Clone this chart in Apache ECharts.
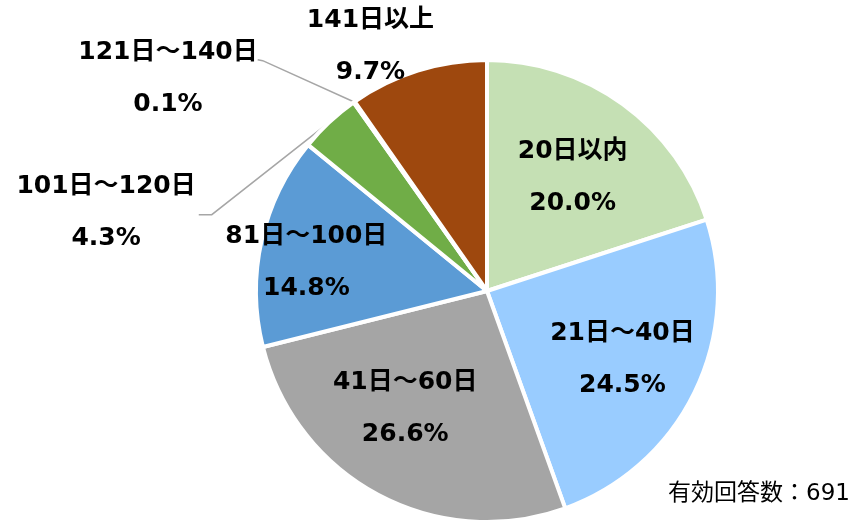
<!DOCTYPE html>
<html><head><meta charset="utf-8">
<script src="https://cdn.jsdelivr.net/npm/echarts@6/dist/echarts.min.js"></script>
<style>html,body{margin:0;padding:0;background:#fff}#c{width:852px;height:524px}</style>
</head><body><div id="c"></div>
<script>
const categories = ['20日以内','21日～40日','41日～60日','81日～100日','101日～120日','121日～140日','141日以上'];
const values = [20.0, 24.5, 26.6, 14.8, 4.3, 0.1, 9.7];
const colors = ['#C5E0B4','#99CCFF','#A5A5A5','#5B9BD5','#70AD47','#ED7D31','#9E480E'];
const footnote = '有効回答数：691';

// label placement: position type and offset from the library's default label centre
const labelPos = ['inside','inside','inside','inside','outside','outside','inside'];
const labelOffsets = [[16,-18],[29,16],[-26,13],[-65,-3],[-50,21],[-70,-7],[-81,-131]];

const chart = echarts.init(document.getElementById('c'));
const font = '"DejaVu Sans","Noto Sans CJK JP",sans-serif';
chart.setOption({
  animation:false,
  series:[{
    type:'pie',
    center:[487,291],
    radius:231,
    startAngle:90,
    clockwise:true,
    data:categories.map((n,i)=>({
      name:n, value:values[i],
      itemStyle:{color:colors[i]},
      label:{position:labelPos[i]},
      labelLine:{show:labelPos[i]==='outside'}
    })),
    itemStyle:{borderColor:'#fff',borderWidth:4},
    label:{
      formatter:p=>p.name+'\n'+p.value.toFixed(1)+'%',
      color:'#000',fontSize:25,fontWeight:'bold',fontFamily:font,lineHeight:52,align:'center'
    },
    labelLine:{lineStyle:{color:'#A6A6A6',width:1.5},length:20,length2:10},
    labelLayout:function(p){
      const i=p.dataIndex, r=p.labelRect;
      const o=labelOffsets[i];
      const cx=r.x+r.width/2+o[0], cy=r.y+r.height/2+o[1];
      const res={x:cx,y:cy,align:'center',verticalAlign:'middle'};
      if(labelPos[i]==='outside' && p.labelLinePoints){
        const right=cx+r.width/2;
        const start=p.labelLinePoints[0];
        if(i===4) res.labelLinePoints=[start,[right+16,cy+2],[right+3,cy+2]];
        else res.labelLinePoints=[start,[right+5,cy-18],[right,cy-19]];
      }
      return res;
    }
  }],
  graphic:[{type:'text',right:2,top:483,style:{text:footnote,fontSize:23,fontFamily:font,fill:'#000'}}]
});
</script></body></html>
